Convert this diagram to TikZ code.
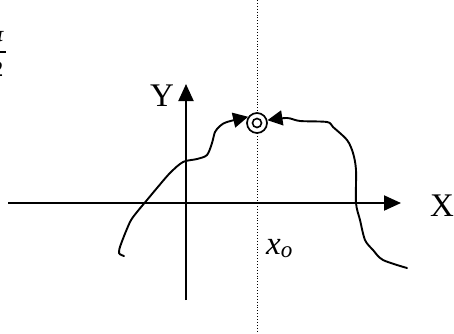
\documentclass[tikz,border=0pt]{standalone}
\usepackage{fontspec}
\setmainfont{Liberation Serif}
\usetikzlibrary{arrows.meta}
\begin{document}
\begin{tikzpicture}[x=1pt,y=-1pt,
  axis/.style={line width=2pt,-{Triangle[length=17pt,width=15pt]}},
  curve/.style={line width=1.9pt,line cap=round,line join=round},
  tip/.style={-{Triangle[length=15pt,width=15pt]}},
  lbl/.style={font=\fontsize{33}{37}\selectfont,inner sep=0pt},
  guide/.style={line width=0.9pt,dotted}]
\useasboundingbox (0,0) rectangle (454,333);
% fraction at top-left (cropped as in the reference)
\node[font=\fontsize{22}{26}\selectfont\itshape,inner sep=0pt] (num) at (-2,37) {π};
\node[font=\fontsize{22}{26}\selectfont,inner sep=0pt] (den) at (-2,69) {2};
\draw[line width=1.3pt] (-10,52) -- (6,52);
% coordinates
\coordinate (xs) at (8,203);
\coordinate (xe) at (401,203);
\coordinate (ys) at (186,300);
\coordinate (ye) at (186,84);
\coordinate (dt) at (257,0);
\coordinate (db) at (257,333);
% dotted guide
\draw[guide] (dt) -- (db);
% axes
\draw[axis] (xs) -- (xe);
\draw[axis] (ys) -- (ye);
\node[lbl] (X) at (442,206) {X};
\node[lbl] (Y) at (162,96) {Y};
\node[font=\fontsize{33}{37}\selectfont\itshape,inner sep=0pt,anchor=base west] (x0) at (266,254) {x\textsubscript{o}};
% point
\node[circle,draw,line width=1.7pt,fill=white,minimum size=20pt,inner sep=0pt] (P) at (257,123) {};
\node[circle,draw,line width=1.6pt,minimum size=9pt,inner sep=0pt] (Pi) at (P) {};
% left curve
\draw[curve,tip] plot[smooth,tension=0.5] coordinates {
 (124,256) (119,253) (121,244) (130,222) (137,212) (147,200) (157,188)
 (170,173) (183,162) (197,159) (207,155) (212,143) (215,132) (220,126) (227,122) (P.145)};
% right curve
\draw[curve,tip] plot[smooth,tension=0.5] coordinates {
 (407,268) (383,260) (373,250) (365,240) (360,220) (356,203) (356,170)
 (353,153) (347,140) (333,127) (327,122) (300,121) (287,118) (P.15)};
\end{tikzpicture}
\end{document}
